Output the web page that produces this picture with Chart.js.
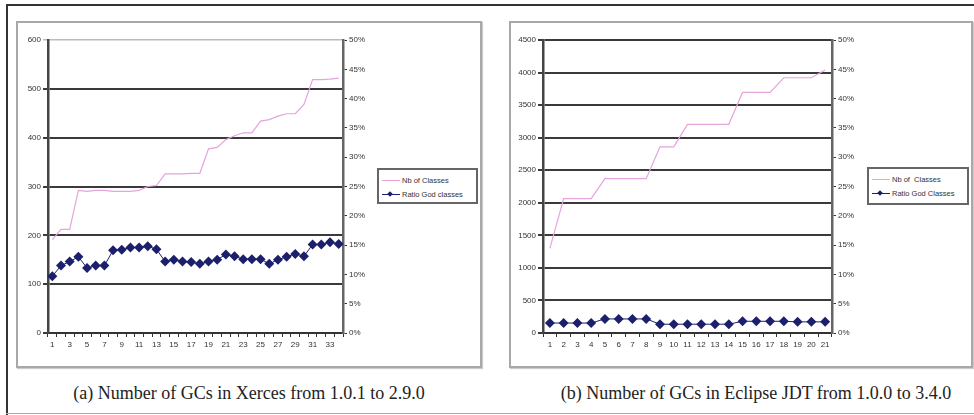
<!DOCTYPE html>
<html>
<head>
<meta charset="utf-8">
<script src="https://cdn.jsdelivr.net/npm/chart.js@4"></script>
<style>
  body { margin: 0; background: #fff; width: 974px; height: 415px; overflow: hidden; position: relative; font-family: "Liberation Sans", Arial, sans-serif; }
  .outerTop { position: absolute; left: 6px; top: 4px; width: 968px; height: 2px; background: #333; }
  .outerLeft { position: absolute; left: 6px; top: 4px; width: 2px; height: 411px; background: #333; }
  .outerBottom { position: absolute; left: 6px; top: 413px; width: 968px; height: 1px; background: #aaa; }
  .frame { position: absolute; border: 2px solid #a8a8a8; box-shadow: 1px 1px 1px #ccc; }
  canvas { position: absolute; }
  .legend { position: absolute; border: 2px solid #666; background: #fff; font-size: 7.5px; color: #333; padding: 3px 2px 2px 3px; box-sizing: border-box; }
  .legend .row { display: flex; align-items: center; height: 14px; white-space: nowrap; }
  .legend .sw { position: relative; width: 18px; height: 8px; margin-right: 2px; }
  .legend .sw .ln { position: absolute; left: 0; right: 0; top: 4px; height: 1px; }
  .legend .sw .dm { position: absolute; left: 6px; top: 1.5px; width: 4px; height: 4px; background: #1c1f6b; transform: rotate(45deg); }
  .caption { position: absolute; top: 383px; font-family: "Liberation Serif", "Times New Roman", serif; font-size: 18px; color: #222; text-align: center; white-space: nowrap; }
</style>
</head>
<body>
<div class="outerTop"></div>
<div class="outerLeft"></div>
<div class="outerBottom"></div>

<div class="frame" style="left:16px; top:21px; width:462px; height:343px;"></div>
<div class="frame" style="left:509px; top:21px; width:460px; height:343px;"></div>

<canvas id="xercesChart" width="352" height="330" style="left:18px; top:30px;"></canvas>
<canvas id="eclipseChart" width="352" height="330" style="left:508px; top:30px;"></canvas>

<div class="legend" style="left:377px; top:168px; width:101px; height:36px;">
  <div class="row"><div class="sw"><div class="ln" style="background:#e6a3dc"></div></div>Nb of Classes</div>
  <div class="row"><div class="sw"><div class="ln" style="background:#1c1f6b"></div><div class="dm"></div></div>Ratio God classes</div>
</div>
<div class="legend" style="left:867px; top:167px; width:102px; height:38px;">
  <div class="row"><div class="sw"><div class="ln" style="background:#e6a3dc"></div></div>Nb of &nbsp;Classes</div>
  <div class="row"><div class="sw"><div class="ln" style="background:#1c1f6b"></div><div class="dm"></div></div>Ratio God Classes</div>
</div>

<div class="caption" style="left:49px; width:400px;">(a) Number of GCs in Xerces from 1.0.1 to 2.9.0</div>
<div class="caption" style="left:556px; width:400px;">(b) Number of GCs in Eclipse JDT from 1.0.0 to 3.4.0</div>

<script>
// Xerces: 34 versions
const xercesVersions = ['1','2','3','4','5','6','7','8','9','10','11','12','13','14','15','16','17',
    '18','19','20','21','22','23','24','25','26','27','28','29','30','31','32','33','34'];
const xercesClasses = [191, 212, 212, 292, 290, 292, 292, 290, 290, 290, 292, 300, 302, 326, 326, 326, 327,
    327, 377, 380, 396, 404, 410, 410, 434, 437, 444, 449, 449, 468, 519, 519, 520, 522];
const xercesRatio = [9.7, 11.5, 12.2, 13.0, 11.1, 11.5, 11.5, 14.1, 14.2, 14.6, 14.6, 14.8, 14.3, 12.2, 12.5, 12.2, 12.1,
    11.8, 12.2, 12.5, 13.4, 13.1, 12.6, 12.6, 12.6, 11.8, 12.5, 13.0, 13.5, 13.1, 15.1, 15.1, 15.5, 15.2];

// Eclipse JDT: 21 versions
const eclipseVersions = ['1','2','3','4','5','6','7','8','9','10','11','12','13','14','15','16','17','18','19','20','21'];
const eclipseClasses = [1300, 2065, 2065, 2065, 2370, 2370, 2370, 2370, 2860, 2860, 3205, 3205, 3205, 3205,
    3695, 3695, 3695, 3920, 3920, 3920, 4040];
const eclipseRatio = [1.7, 1.7, 1.7, 1.7, 2.4, 2.4, 2.4, 2.4, 1.5, 1.5, 1.5, 1.5, 1.5, 1.5,
    2.0, 2.0, 2.0, 2.0, 1.9, 1.9, 1.9];

const pink = '#e6a3dc';
const navy = '#1c1f6b';
const tickFont = { family: 'Liberation Sans, Arial', size: 8 };

function makeChart(id, labels, classes, ratio, yMax, yStep, yWidth, y1Width, everyOther) {
    const ctx = document.getElementById(id).getContext('2d');
    return new Chart(ctx, {
        type: 'line',
        data: {
            labels: labels,
            datasets: [
                {
                    label: 'Nb of Classes',
                    data: classes,
                    yAxisID: 'y',
                    borderColor: pink,
                    borderWidth: 1.2,
                    pointRadius: 0,
                    tension: 0
                },
                {
                    label: 'Ratio God classes',
                    data: ratio,
                    yAxisID: 'y1',
                    borderColor: navy,
                    borderWidth: 1,
                    backgroundColor: navy,
                    pointStyle: 'rectRot',
                    pointRadius: 5,
                    pointBorderWidth: 0,
                    tension: 0
                }
            ]
        },
        options: {
            responsive: false,
            animation: false,
            layout: { padding: { top: 10, left: 0, right: 0, bottom: 0 } },
            plugins: {
                legend: { display: false },
                tooltip: { enabled: false }
            },
            scales: {
                x: {
                    offset: true,
                    grid: {
                        offset: true,
                        drawOnChartArea: false,
                        drawTicks: true,
                        tickLength: 4,
                        color: '#333',
                        lineWidth: 1
                    },
                    border: { display: true, color: '#333', width: 2 },
                    ticks: {
                        autoSkip: false,
                        maxRotation: 0,
                        padding: 3,
                        color: '#333',
                        font: tickFont,
                        callback: (v, i) => (everyOther && i % 2 === 1) ? '' : labels[i]
                    },
                    afterFit: (s) => { s.height = 27; }
                },
                y: {
                    position: 'left',
                    min: 0,
                    max: yMax,
                    grid: {
                        color: (c) => (c.tick && c.tick.value === yMax && everyOther) ? '#bbb' : '#3a3a3a',
                        lineWidth: (c) => (c.tick && c.tick.value === yMax && everyOther) ? 1.5 : 2,
                        tickLength: 5
                    },
                    border: { display: true, color: '#444', width: 2.5 },
                    ticks: {
                        stepSize: yStep,
                        padding: 2,
                        color: '#333',
                        font: tickFont,
                        callback: (v) => String(v)
                    },
                    afterFit: (s) => { s.width = yWidth; }
                },
                y1: {
                    position: 'right',
                    min: 0,
                    max: 50,
                    grid: {
                        drawOnChartArea: false,
                        drawTicks: true,
                        tickLength: 4,
                        color: '#333'
                    },
                    border: { display: true, color: '#666', width: 2.5 },
                    ticks: {
                        stepSize: 5,
                        padding: 2,
                        color: '#333',
                        font: tickFont,
                        callback: (v) => v + '%'
                    },
                    afterFit: (s) => { s.width = y1Width; }
                }
            }
        }
    });
}

makeChart('xercesChart', xercesVersions, xercesClasses, xercesRatio, 600, 100, 30, 27, true);
makeChart('eclipseChart', eclipseVersions, eclipseClasses, eclipseRatio, 4500, 500, 35, 28, false);
</script>
</body>
</html>
